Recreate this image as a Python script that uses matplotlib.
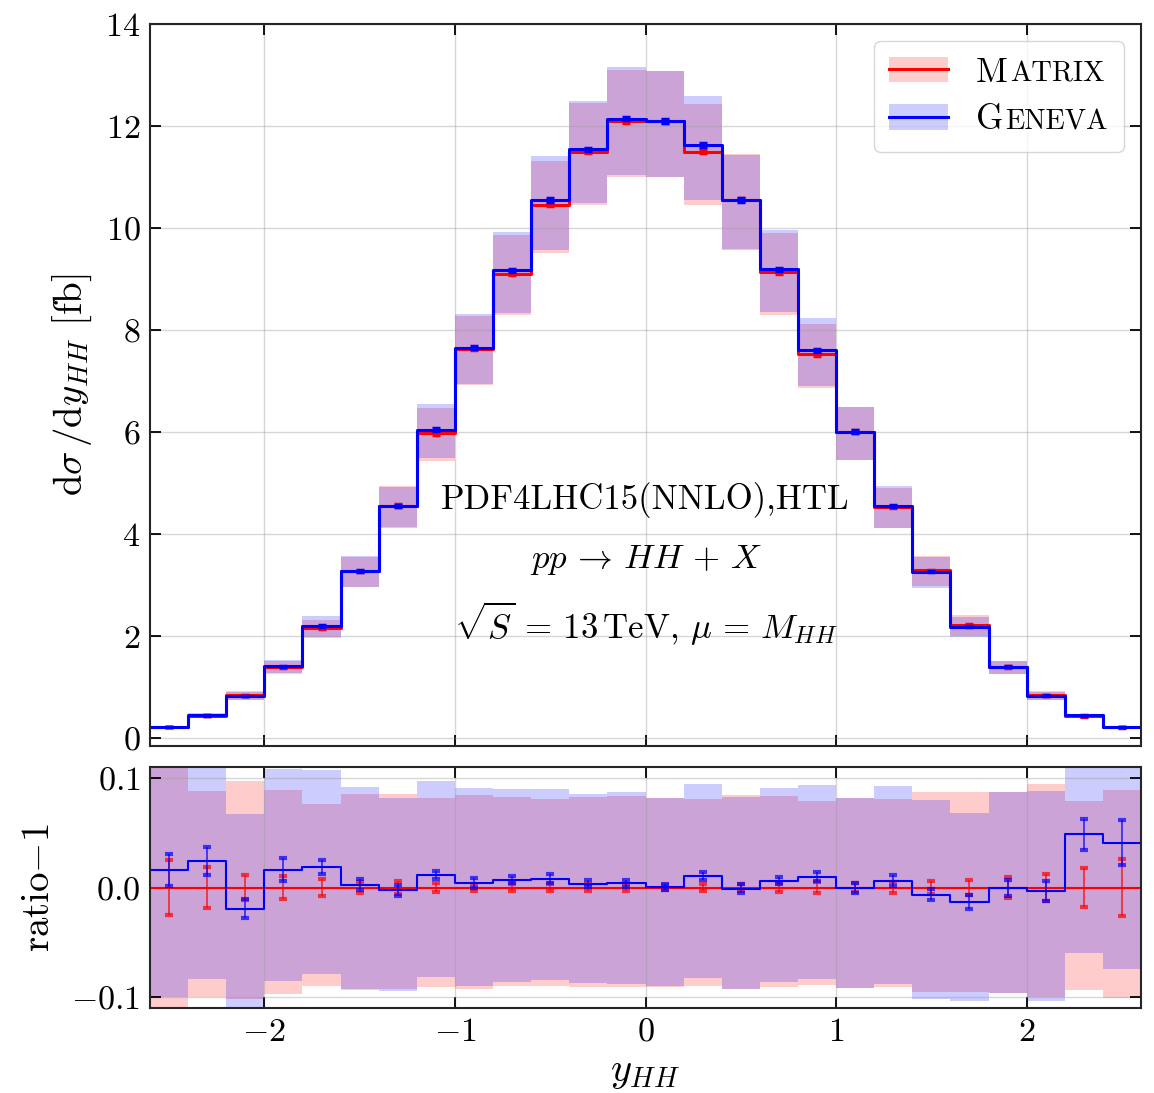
import numpy as np
import matplotlib
matplotlib.use("Agg")
import matplotlib.pyplot as plt
from matplotlib.patches import Patch
from matplotlib.lines import Line2D
from matplotlib.offsetbox import TextArea, HPacker

plt.rcParams.update({
    "font.family": "serif",
    "font.serif": ["cmr10"],
    "mathtext.fontset": "cm",
    "axes.formatter.use_mathtext": True,
    "axes.unicode_minus": True,
    "font.size": 24,
})

# ---------------- data ----------------
bin_edges = [-2.6, -2.4, -2.2, -2.0, -1.8, -1.6, -1.4, -1.2, -1.0, -0.8, -0.6, -0.4, -0.2,
             0.0, 0.2, 0.4, 0.6, 0.8, 1.0, 1.2, 1.4, 1.6, 1.8, 2.0, 2.2, 2.4, 2.6]

# Matrix central values dsigma/dy [fb]
matrix_val = [0.22, 0.44, 0.846, 1.39, 2.16, 3.27, 4.56, 5.98, 7.63, 9.11, 10.46, 11.50, 12.10,
              12.09, 11.50, 10.56, 9.14, 7.53, 6.01, 4.53, 3.29, 2.22, 1.40, 0.84, 0.43, 0.215]
# Matrix stat errors (relative)
matrix_err = [0.0247, 0.019, 0.0118, 0.0101, 0.0082, 0.0053, 0.006, 0.0044, 0.0033, 0.003, 0.0033,
              0.003, 0.003, 0.002, 0.003, 0.0035, 0.0042, 0.0048, 0.004, 0.005, 0.0057, 0.0071,
              0.0094, 0.0122, 0.0174, 0.026]
# Matrix scale band (relative to Matrix central)
matrix_up = [0.115, 0.0879, 0.097, 0.0894, 0.076, 0.0855, 0.0855, 0.0815, 0.0848, 0.0824, 0.081,
             0.0824, 0.0833, 0.0818, 0.081, 0.0848, 0.0833, 0.0788, 0.0818, 0.081, 0.0876, 0.087,
             0.0876, 0.0945, 0.0788, 0.089]
matrix_dn = [-0.115, -0.0997, -0.102, -0.0973, -0.0897, -0.094, -0.0927, -0.091, -0.0927, -0.0903,
             -0.0897, -0.091, -0.0909, -0.0906, -0.0903, -0.0927, -0.0912, -0.0894, -0.0918,
             -0.0912, -0.0952, -0.0955, -0.0964, -0.1, -0.0933, -0.101]

# Geneva ratio to Matrix minus one
geneva_ratio = [0.0158, 0.024, -0.0194, 0.0164, 0.0185, 0.0027, -0.0024, 0.0115, 0.0039, 0.007,
                0.0082, 0.0036, 0.0039, 0.0003, 0.0106, -0.0012, 0.006, 0.0097, -0.0003, 0.006,
                -0.0067, -0.013, -0.0003, -0.0033, 0.0485, 0.041]
geneva_err = [0.0145, 0.0127, 0.0085, 0.0103, 0.0065, 0.005, 0.005, 0.004, 0.0048, 0.0032, 0.004,
              0.0032, 0.003, 0.003, 0.0033, 0.004, 0.0032, 0.004, 0.0045, 0.005, 0.005, 0.0065,
              0.0076, 0.0094, 0.0144, 0.0203]
geneva_up = [0.115, 0.115, 0.0673, 0.108, 0.107, 0.0915, 0.0815, 0.097, 0.091, 0.0903, 0.0903,
             0.0855, 0.0873, 0.0815, 0.0945, 0.0824, 0.091, 0.0936, 0.0818, 0.0924, 0.0803,
             0.0679, 0.0876, 0.0885, 0.115, 0.115]
geneva_dn = [-0.0997, -0.0833, -0.115, -0.0852, -0.079, -0.0927, -0.0948, -0.082, -0.0897, -0.086,
             -0.0842, -0.0873, -0.0879, -0.0903, -0.0827, -0.093, -0.0867, -0.0833, -0.0918,
             -0.0879, -0.1018, -0.104, -0.0964, -0.1036, -0.0594, -0.0745]

x_ticks = [-2, -1, 0, 1, 2]
main_yticks = [0, 2, 4, 6, 8, 10, 12, 14]
ratio_yticks = [-0.1, 0.0, 0.1]
labels_sc = [("M", "ATRIX"), ("G", "ENEVA")]

# ---------------- derived ----------------
edges = np.array(bin_edges)
centers = 0.5 * (edges[:-1] + edges[1:])
m = np.array(matrix_val)
g_r = np.array(geneva_ratio)
g = m * (1 + g_r)

def stepv(a):
    a = np.asarray(a)
    return np.append(a, a[-1])

RED = "#ff0000"
BLUE = "#0000ff"

W, H = 1154, 1093
fig = plt.figure(figsize=(W / 100, H / 100), dpi=100)
ax = fig.add_axes([150 / W, 1 - 746 / H, 991 / W, 722 / H])
axr = fig.add_axes([150 / W, 1 - 1008 / H, 991 / W, 241 / H], sharex=ax)

# ---- main panel ----
ax.fill_between(edges, stepv(m * (1 + np.array(matrix_dn))), stepv(m * (1 + np.array(matrix_up))),
                step="post", color=RED, alpha=0.2, lw=0, zorder=1)
ax.fill_between(edges, stepv(m * (1 + np.array(geneva_dn))), stepv(m * (1 + np.array(geneva_up))),
                step="post", color=BLUE, alpha=0.2, lw=0, zorder=1.1)
ax.step(edges, stepv(m), where="post", color=RED, lw=2.2, zorder=3)
ax.errorbar(centers, m, yerr=m * np.array(matrix_err), fmt="none", ecolor=RED,
            elinewidth=1.5, capsize=3, capthick=2.5, zorder=3.1)
ax.step(edges, stepv(g), where="post", color=BLUE, lw=2.2, zorder=4)
ax.errorbar(centers, g, yerr=m * np.array(geneva_err), fmt="none", ecolor=BLUE,
            elinewidth=1.5, capsize=3, capthick=2.5, zorder=4.1)

ax.set_xlim(-2.6, 2.6)
ax.set_ylim(-0.15, 14)
ax.set_yticks(main_yticks)
ax.set_xticks(x_ticks)
ax.tick_params(labelbottom=False)
ax.set_ylabel(r"$\mathrm{d}\sigma\,/\mathrm{d}y_{HH}$ [fb]", fontsize=28)
ax.yaxis.set_label_coords(-0.057, 0.5)

ax.text(0, 4.67, "PDF4LHC15(NNLO),HTL", ha="center", va="center", fontsize=25, zorder=6)
ax.text(0, 3.49, r"$pp \,\rightarrow\, HH \,+\, X$", ha="center", va="center", fontsize=25,
        zorder=6)
ax.text(0, 2.25, r"$\sqrt{S} \,=\, 13\,\mathrm{TeV},\,\mu \,=\, M_{HH}$", ha="center",
        va="center", fontsize=25, zorder=6)

h_m = (Patch(facecolor=RED, alpha=0.2, lw=0), Line2D([], [], color=RED, lw=2.2))
h_g = (Patch(facecolor=BLUE, alpha=0.2, lw=0), Line2D([], [], color=BLUE, lw=2.2))
leg = ax.legend([h_m, h_g], [labels_sc[0][0], labels_sc[1][0]], loc="upper right",
                fontsize=25, handlelength=1.7, handleheight=0.75, fancybox=True,
                framealpha=0.8, edgecolor="0.8", borderpad=0.45, labelspacing=0.45)
leg.set_zorder(10)
# small caps emulation
for col in leg._legend_handle_box.get_children():
    for item, (big, small) in zip(col.get_children(), labels_sc):
        tb = HPacker(children=[TextArea(big, textprops=dict(fontsize=25, family="serif")),
                               TextArea(small, textprops=dict(fontsize=20.5, family="serif"))],
                     align="baseline", pad=0, sep=1.5)
        tb.set_figure(fig)
        item._children[1] = tb

# ---- ratio panel ----
axr.fill_between(edges, stepv(matrix_dn), stepv(matrix_up), step="post", color=RED,
                 alpha=0.2, lw=0, zorder=1)
axr.fill_between(edges, stepv(geneva_dn), stepv(geneva_up), step="post", color=BLUE,
                 alpha=0.2, lw=0, zorder=1.1)
axr.step(edges, stepv(np.zeros_like(m)), where="post", color=RED, lw=1.5, zorder=3)
axr.errorbar(centers, np.zeros_like(m), yerr=matrix_err, fmt="none", ecolor=(1, 0, 0, 0.7),
             elinewidth=1.3, capsize=3, capthick=3, zorder=3.1)
axr.step(edges, stepv(g_r), where="post", color=BLUE, lw=1.5, zorder=4)
axr.errorbar(centers, g_r, yerr=geneva_err, fmt="none", ecolor=(0, 0, 1, 0.7),
             elinewidth=1.3, capsize=3, capthick=3, zorder=4.1)
axr.set_ylim(-0.11, 0.11)
axr.set_yticks(ratio_yticks)
axr.set_yticklabels([r"$-0.1$", r"$0.0$", r"$0.1$"])
axr.set_xticks(x_ticks)
axr.set_xticklabels([r"$-2$", r"$-1$", r"$0$", r"$1$", r"$2$"])
axr.set_ylabel(r"ratio$-1$", fontsize=28)
axr.yaxis.set_label_coords(-0.094, 0.5)
axr.set_xlabel(r"$y_{HH}$", fontsize=29, labelpad=6)

for a in (ax, axr):
    a.grid(True, color="0.6", alpha=0.4, lw=1.0)
    a.set_axisbelow(False)
    a.tick_params(direction="in", top=True, right=True, length=8, width=1.3, pad=7,
                  labelsize=24.5)
    for s in a.spines.values():
        s.set_linewidth(1.5)
        s.set_color("0.15")
        s.set_zorder(20)

fig.savefig("out.png", dpi=100)
